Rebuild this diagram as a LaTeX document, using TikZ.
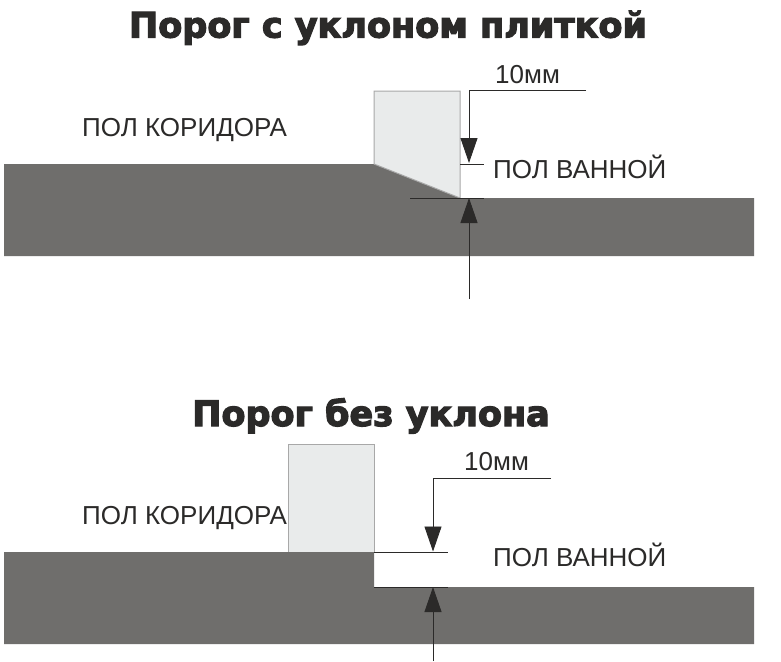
\documentclass[tikz,border=0pt]{standalone}
\usepackage{fontspec}
\setmainfont{Liberation Sans}
\newfontfamily\titlefont[FakeBold=3.5]{DejaVu Sans Bold}
\usetikzlibrary{arrows.meta}
\definecolor{floorgrey}{HTML}{6F6E6C}
\definecolor{blockgrey}{HTML}{E9EBEB}
\definecolor{blockedge}{HTML}{A8A8A8}
\definecolor{dimblack}{HTML}{2B2A29}
\tikzset{
  x=1pt,y=-1pt,
  floorshape/.style={fill=floorgrey,draw=none},
  blockshape/.style={fill=blockgrey,draw=blockedge,line width=1pt},
  dimline/.style={draw=dimblack,line width=0.9pt},
  dimarrow/.style={dimline,-{Triangle[length=25pt,width=17pt,fill=dimblack]}},
  lab/.style={font=\fontsize{26}{30}\selectfont,text=dimblack,inner sep=0pt,anchor=base west},
  titlelab/.style={font=\titlefont\fontsize{35}{40}\selectfont,text=dimblack,inner sep=0pt,anchor=base},
}
\begin{document}
\begin{tikzpicture}
\useasboundingbox[fill=white] (0,0) rectangle (781,661);
% titles
\node[titlelab] (title1) at (388,37.5) {Порог с уклоном плиткой};
\node[titlelab] (title2) at (371,426) {Порог без уклона};
% top drawing
\fill[floorshape] (4,164) -- (374,164) -- (460,198) -- (754,198) -- (754,256) -- (4,256) -- cycle;
\draw[blockshape] (374,91) -- (460,91) -- (460,198) -- (374,164) -- cycle;
\coordinate (a1) at (586,90);
\coordinate (a2) at (469,90);
\coordinate (a3) at (469,163);
\coordinate (a4) at (469,299);
\coordinate (a5) at (469,198);
\coordinate (a6) at (460,164);
\coordinate (a7) at (484,164);
\coordinate (a8) at (410,198);
\coordinate (a9) at (484,198);
\draw[dimline] (a1) -- (a2);
\draw[dimarrow] (a2) -- (a3);
\draw[dimarrow] (a4) -- (a5);
\draw[dimline] (a6) -- (a7);
\draw[dimline] (a8) -- (a9);
\node[lab] (t1) at (495,83) {10мм};
\node[lab] (k1) at (82,136) {ПОЛ КОРИДОРА};
\node[lab] (v1) at (493,178) {ПОЛ ВАННОЙ};
% bottom drawing
\fill[floorshape] (4,552) -- (374,552) -- (374,587) -- (754,587) -- (754,644) -- (4,644) -- cycle;
\draw[blockshape] (288,552) -- (288,444) -- (374,444) -- (374,552);
\coordinate (b1) at (551,478);
\coordinate (b2) at (433,478);
\coordinate (b3) at (433,551.5);
\coordinate (b4) at (433,661);
\coordinate (b5) at (433,587);
\coordinate (b6) at (374,552);
\coordinate (b7) at (448,552);
\coordinate (b8) at (374,587);
\coordinate (b9) at (448,587);
\draw[dimline] (b1) -- (b2);
\draw[dimarrow] (b2) -- (b3);
\draw[dimarrow] (b4) -- (b5);
\draw[dimline] (b6) -- (b7);
\draw[dimline] (b8) -- (b9);
\node[lab] (t2) at (464,470) {10мм};
\node[lab] (k2) at (82,524) {ПОЛ КОРИДОРА};
\node[lab] (v2) at (493,566) {ПОЛ ВАННОЙ};
\end{tikzpicture}
\end{document}
